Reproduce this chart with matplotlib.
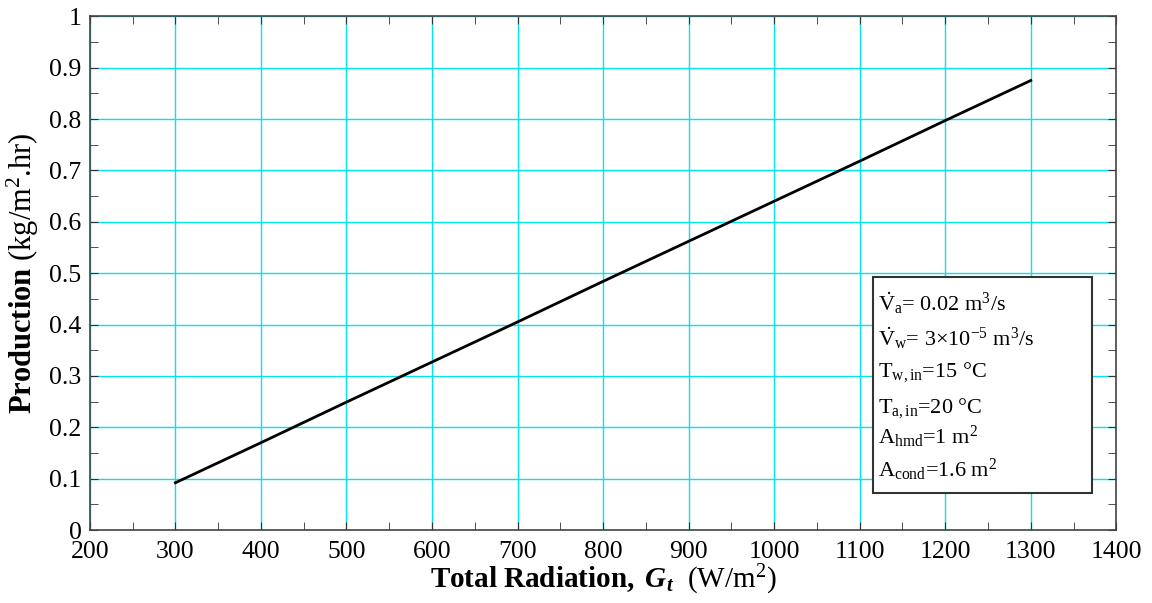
import matplotlib
matplotlib.use("Agg")
import matplotlib.pyplot as plt
from matplotlib.patches import Rectangle
from matplotlib.ticker import MultipleLocator

# Datos
radiacion = [300, 400, 500, 600, 700, 800, 900, 1000, 1100, 1200, 1300]
produccion = [0.092, 0.170, 0.249, 0.327, 0.405, 0.484, 0.562, 0.640, 0.718, 0.797, 0.875]

x_ticks = [200, 300, 400, 500, 600, 700, 800, 900, 1000, 1100, 1200, 1300, 1400]
y_ticks = [0, 0.1, 0.2, 0.3, 0.4, 0.5, 0.6, 0.7, 0.8, 0.9, 1]
y_labels = ["0", "0.1", "0.2", "0.3", "0.4", "0.5", "0.6", "0.7", "0.8", "0.9", "1"]

info = [
    r"$\dot{\mathrm{V}}_{\mathrm{a}}$= 0.02 m$^3$/s",
    r"$\dot{\mathrm{V}}_{\mathrm{w}}$= 3$\times$10$^{-5}$ m$^3$/s",
    r"T$_{\mathrm{w,in}}$=15 °C",
    r"T$_{\mathrm{a,in}}$=20 °C",
    r"A$_{\mathrm{hmd}}$=1 m$^2$",
    r"A$_{\mathrm{cond}}$=1.6 m$^2$",
]

plt.rcParams["font.family"] = ["Liberation Serif", "DejaVu Serif"]
plt.rcParams["mathtext.fontset"] = "custom"
plt.rcParams["mathtext.rm"] = "Liberation Serif"
plt.rcParams["mathtext.it"] = "Liberation Serif:italic"
plt.rcParams["mathtext.bf"] = "Liberation Serif:bold"
plt.rcParams["mathtext.bfit"] = "Liberation Serif:bold:italic"

fig = plt.figure(figsize=(11.52, 6.03), dpi=100)
ax = fig.add_axes([0.078, 0.121, 0.891, 0.852])

ax.plot(radiacion, produccion, color="black", lw=2)

ax.set_xlim(200, 1400)
ax.set_ylim(0, 1)
ax.set_xticks(x_ticks)
ax.set_yticks(y_ticks)
ax.set_yticklabels(y_labels)
ax.xaxis.set_minor_locator(MultipleLocator(50))
ax.yaxis.set_minor_locator(MultipleLocator(0.05))
ax.tick_params(which="both", direction="in", top=True, right=True, labelsize=18.5,
               colors="#333333", labelcolor="black", length=6)
ax.tick_params(axis="x", pad=8)
ax.tick_params(axis="y", pad=6)
ax.grid(True, which="major", color="#00e5ee", lw=1)
ax.set_axisbelow(True)
for s in ax.spines.values():
    s.set_color("#444444")
    s.set_linewidth(1.2)

ax.set_xlabel(r"$\mathbf{Total\ Radiation,}\ \mathbfit{G_t}$  (W/m$^2$)", fontsize=21, labelpad=0)
ax.set_ylabel(r"$\mathbf{Production}$ (kg/m$^2$.hr)", fontsize=22, labelpad=6)

# Cuadro de parámetros
ax.add_patch(Rectangle((0.763, 0.072), 0.213, 0.420, transform=ax.transAxes,
                       facecolor="white", edgecolor="#333333", lw=1.5, zorder=5))
ys = [0.442, 0.374, 0.307, 0.237, 0.181, 0.117]
for t, yy in zip(info, ys):
    ax.text(0.768, yy, t, transform=ax.transAxes, fontsize=16, va="center", ha="left", zorder=6)

fig.savefig("out.png", dpi=100)
